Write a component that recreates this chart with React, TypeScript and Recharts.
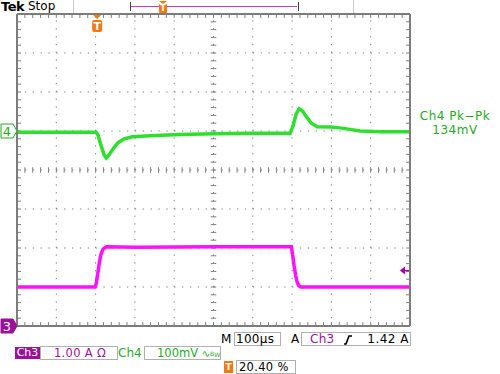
import React from 'react';
import { LineChart, Line, XAxis, YAxis, ReferenceLine, ReferenceDot } from 'recharts';

// time in microseconds, 0 = trigger (20.4% of record), 100 us / div
const ch4Times = [-204, -100, -3, 2, 10, 18, 23, 31, 41, 53, 69, 89, 135, 211, 300, 389, 491, 499, 506, 514, 522, 532, 545, 560, 593, 618, 669, 720, 796];
// Ch4 in mV, 100 mV / div, offset +1 div
const ch4MilliVolts = [-3, -3, -3, -10, -38, -62, -69, -60, -45, -30, -20, -15, -12, -9, -7, -6, -6, 15, 43, 57, 52, 37, 20, 11, 10, 8, 0, -2, -2];

const ch3Times = [-204, -100, -5, -2, 0, 3, 6, 10, 15, 23, 100, 300, 494, 497, 501, 505, 509, 513, 518, 600, 796];
// Ch3 in A, 1 A / div, offset -4 div
const ch3Amps = [1.0, 1.0, 1.0, 1.1, 1.25, 1.45, 1.65, 1.85, 1.97, 2.03, 2.02, 2.03, 2.03, 1.85, 1.55, 1.3, 1.12, 1.03, 1.0, 1.0, 1.0];

const ch4Offset = 1;
const ch3Offset = -4;
const triggerLevel = 1.42;

const xMin = -204;
const xMax = 796;
const xMid = 296;
const majorX = Array.from({ length: 11 }, (_, i) => xMin + i * 100);
const majorY = [-4, -3, -2, -1, 0, 1, 2, 3, 4];
const minorX = Array.from({ length: 51 }, (_, i) => xMin + i * 20);
const minorY = Array.from({ length: 41 }, (_, i) => Math.round((-4 + i * 0.2) * 10) / 10);

const ch4Data = ch4Times.map((t, i) => ({ t, v: ch4MilliVolts[i] / 100 + ch4Offset }));
const ch3Data = ch3Times.map((t, i) => ({ t, v: ch3Amps[i] / 1 + ch3Offset }));

const GREEN = '#2ee02e';
const GREEN_TXT = '#1faa1f';
const MAGENTA = '#ff10ff';
const MAG_TXT = '#a010a0';
const ORANGE = '#f47a10';
const BORDER = '#7c7c7c';
const DOTS = '#7e7e7e';

// tick lengths in data units (~4px)
const TX = 10;
const TY = 0.1;

const txt = (left: number, top: number, s: React.CSSProperties = {}): React.CSSProperties => ({
  position: 'absolute', left, top, fontSize: 12, lineHeight: '13px', whiteSpace: 'nowrap', ...s,
});
const box = (left: number, top: number, width: number): React.CSSProperties => ({
  position: 'absolute', left, top, width, height: 12, border: '1px solid #b0b0b0', boxSizing: 'content-box',
});

const chMarker = (label: string, filled: boolean, color: string) => (p: any) => {
  const { cx, cy } = p;
  const x0 = cx - 16;
  return (
    <g>
      <path d={`M${x0} ${cy - 7} L${cx - 4} ${cy - 7} L${cx} ${cy} L${cx - 4} ${cy + 7} L${x0} ${cy + 7} Z`}
        fill={filled ? color : '#fff'} stroke={color} strokeWidth={1} />
      <text x={x0 + 6} y={cy + 5} textAnchor="middle" fontSize={13} fontFamily="DejaVu Sans"
        fill={filled ? '#fff' : color}>{label}</text>
    </g>
  );
};

const trigMarker = (p: any) => {
  const { cx, cy } = p;
  return (
    <g>
      <path d={`M${cx - 4} ${cy + 1} L${cx + 4} ${cy + 1} L${cx} ${cy + 5} Z`} fill={ORANGE} />
      <rect x={cx - 5} y={cy + 6} width={10} height={12} rx={2} fill={ORANGE} />
      <text x={cx} y={cy + 16} textAnchor="middle" fontSize={11} fontWeight="bold" fontFamily="DejaVu Sans" fill="#fff">T</text>
    </g>
  );
};

const levelArrow = (p: any) => {
  const { cx, cy } = p;
  return (
    <g>
      <path d={`M${cx - 3} ${cy} L${cx + 2} ${cy - 4} L${cx + 2} ${cy + 4} Z`} fill="#a000a0" />
      <line x1={cx} y1={cy} x2={cx + 6} y2={cy} stroke="#a000a0" strokeWidth={1.5} />
    </g>
  );
};

export default function App() {
  return (
    <div style={{ position: 'absolute', left: 0, top: 0, width: 500, height: 374, background: '#fff', overflow: 'hidden', fontFamily: '"DejaVu Sans", sans-serif' }}>
      <LineChart width={500} height={374} margin={{ top: 14, left: 17, right: 90, bottom: 48 }}>
        <XAxis type="number" dataKey="t" domain={[xMin, xMax]} allowDataOverflow hide />
        <YAxis type="number" domain={[-4, 4]} allowDataOverflow hide />

        {/* dotted graticule */}
        {majorX.map((t) => (
          <ReferenceLine key={`gx${t}`} x={t} stroke={DOTS} strokeDasharray="1.3 6.5" />
        ))}
        {majorY.map((v) => (
          <ReferenceLine key={`gy${v}`} y={v} stroke={DOTS} strokeDasharray="1.3 6.56" />
        ))}
        {/* centre cross ticks */}
        {minorX.map((t) => (
          <ReferenceLine key={`cx${t}`} segment={[{ x: t, y: -0.07 }, { x: t, y: 0.07 }]} stroke={DOTS} />
        ))}
        {minorY.map((v) => (
          <ReferenceLine key={`cy${v}`} segment={[{ x: xMid - 7, y: v }, { x: xMid + 7, y: v }]} stroke={DOTS} />
        ))}
        {/* border ticks */}
        {minorX.map((t) => (
          <ReferenceLine key={`bt${t}`} segment={[{ x: t, y: 4 }, { x: t, y: 4 - TY }]} stroke={BORDER} />
        ))}
        {minorX.map((t) => (
          <ReferenceLine key={`bb${t}`} segment={[{ x: t, y: -4 }, { x: t, y: -4 + TY }]} stroke={BORDER} />
        ))}
        {minorY.map((v) => (
          <ReferenceLine key={`bl${v}`} segment={[{ x: xMin, y: v }, { x: xMin + TX, y: v }]} stroke={BORDER} />
        ))}
        {minorY.map((v) => (
          <ReferenceLine key={`br${v}`} segment={[{ x: xMax, y: v }, { x: xMax - TX, y: v }]} stroke={BORDER} />
        ))}

        <Line data={ch4Data} dataKey="v" type="linear" stroke={GREEN} strokeWidth={3.5} dot={false} isAnimationActive={false} />
        <Line data={ch3Data} dataKey="v" type="linear" stroke={MAGENTA} strokeWidth={3.5} dot={false} isAnimationActive={false} />

        {/* frame */}
        <ReferenceLine x={xMin} stroke={BORDER} strokeWidth={2} />
        <ReferenceLine x={xMax} stroke={BORDER} strokeWidth={2} />
        <ReferenceLine y={4} stroke={BORDER} strokeWidth={2} />
        <ReferenceLine y={-4} stroke={BORDER} strokeWidth={2} />

        <ReferenceDot x={xMin} y={ch4Offset} ifOverflow="visible" shape={chMarker('4', false, GREEN_TXT)} />
        <ReferenceDot x={xMin} y={ch3Offset} ifOverflow="visible" shape={chMarker('3', true, '#9a129a')} />
        <ReferenceDot x={0} y={4} ifOverflow="visible" shape={trigMarker} />
        <ReferenceDot x={778} y={triggerLevel + ch3Offset} ifOverflow="visible" shape={levelArrow} />
      </LineChart>

      {/* top status bar */}
      <div style={txt(1, 0, { fontSize: 13, lineHeight: '13px', fontWeight: 'bold', letterSpacing: -0.5 })}>Tek</div>
      <div style={txt(28, 0, { fontSize: 12, lineHeight: '13px' })}>Stop</div>
      <div style={{ position: 'absolute', left: 73, top: 0, width: 1, height: 13, background: '#c8c8c8' }} />
      <div style={{ position: 'absolute', left: 353, top: 0, width: 1, height: 13, background: '#c8c8c8' }} />
      <div style={{ position: 'absolute', left: 130, top: 2, width: 167, height: 9, borderLeft: '1px solid #444', borderRight: '1px solid #444' }} />
      <div style={{ position: 'absolute', left: 131, top: 6, width: 166, height: 1, background: '#c040c0' }} />
      <div style={{ position: 'absolute', left: 159, top: 1, width: 0, height: 0, borderLeft: '4px solid transparent', borderRight: '4px solid transparent', borderTop: '3px solid ' + ORANGE }} />
      <div style={txt(159, 4, { width: 8, height: 9, background: ORANGE, color: '#fff', fontSize: 8, lineHeight: '9px', textAlign: 'center', fontWeight: 'bold', borderRadius: 1 })}>T</div>

      {/* measurement readout */}
      <div style={txt(410, 110, { width: 90, textAlign: 'center', color: GREEN_TXT, fontSize: 12, letterSpacing: 0.5 })}>Ch4 Pk−Pk</div>
      <div style={txt(410, 124, { width: 90, textAlign: 'center', color: GREEN_TXT, fontSize: 12, letterSpacing: 0.5 })}>134mV</div>

      {/* bottom settings */}
      <div style={txt(221, 333)}>M</div>
      <div style={box(234, 332, 45)} />
      <div style={txt(236, 333, { letterSpacing: 0.3 })}>100µs</div>
      <div style={txt(291, 333)}>A</div>
      <div style={box(301, 332, 108)} />
      <div style={txt(310, 333, { color: MAG_TXT, letterSpacing: 0.3 })}>Ch3</div>
      <svg style={{ position: 'absolute', left: 343, top: 334 }} width={10} height={11}>
        <path d="M1 10 L3 10 L6 2 L9 2" stroke="#000" strokeWidth={1.6} fill="none" />
      </svg>
      <div style={txt(360, 333, { width: 49, textAlign: 'right', letterSpacing: 0.5 })}>1.42 A</div>

      <div style={txt(15, 347, { width: 25, height: 12, background: '#9a129a', color: '#fff', textAlign: 'center', lineHeight: '12px', fontSize: 11 })}>Ch3</div>
      <div style={box(40, 346, 76)} />
      <div style={txt(54, 347, { color: MAG_TXT, fontSize: 11.5, letterSpacing: 0.3 })}>1.00 A Ω</div>
      <div style={txt(118, 347, { color: GREEN_TXT })}>Ch4</div>
      <div style={box(144, 346, 75)} />
      <div style={txt(157, 347, { color: GREEN_TXT, fontSize: 11.5 })}>
        100mV <span style={{ fontSize: 10 }}>∿</span><span style={{ fontSize: 6, verticalAlign: 'top' }}>B</span><span style={{ fontSize: 6 }}>W</span>
      </div>

      <div style={txt(224, 361, { width: 9, height: 12, background: ORANGE, color: '#fff', fontSize: 9, lineHeight: '12px', textAlign: 'center', fontWeight: 'bold' })}>T</div>
      <div style={box(236, 360, 58)} />
      <div style={txt(239, 361, { fontSize: 11.5, letterSpacing: 0.3 })}>20.40 %</div>
    </div>
  );
}
